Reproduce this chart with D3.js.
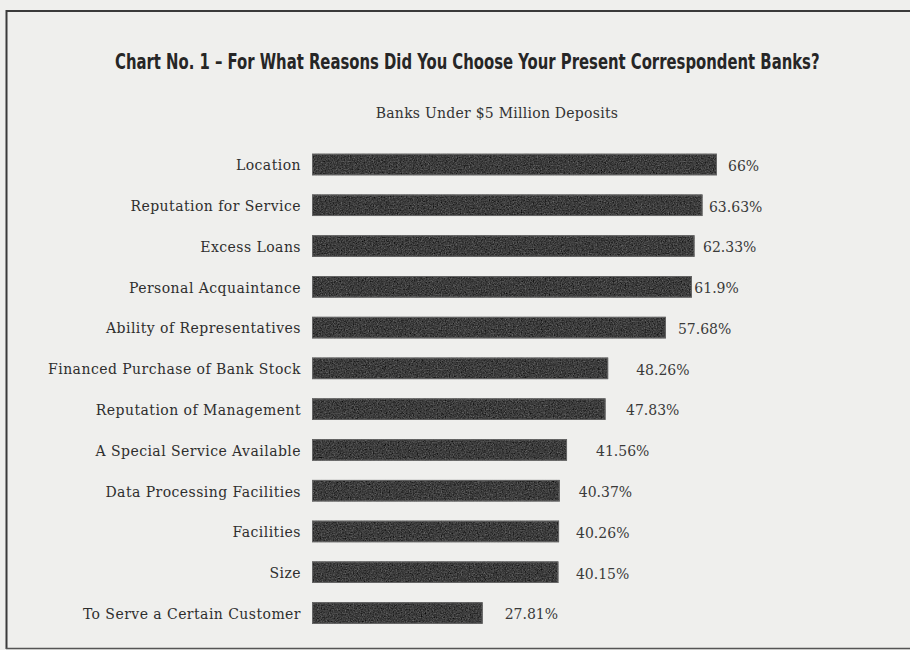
<!DOCTYPE html>
<html>
<head>
<meta charset="utf-8">
<script src="https://cdn.jsdelivr.net/npm/d3@7"></script>
<style>
  html, body { margin: 0; padding: 0; background: #efefed; }
  svg { display: block; }
</style>
</head>
<body>
<svg id="chart" width="910" height="650"></svg>
<script>
const titleText = "Chart No. 1 \u2013 For What Reasons Did You Choose Your Present Correspondent Banks?";
const subtitleText = "Banks Under $5 Million Deposits";
const categories = [
  "Location",
  "Reputation for Service",
  "Excess Loans",
  "Personal Acquaintance",
  "Ability of Representatives",
  "Financed Purchase of Bank Stock",
  "Reputation of Management",
  "A Special Service Available",
  "Data Processing Facilities",
  "Facilities",
  "Size",
  "To Serve a Certain Customer"
];
const values = [66, 63.63, 62.33, 61.9, 57.68, 48.26, 47.83, 41.56, 40.37, 40.26, 40.15, 27.81];
const valueLabels = ["66%", "63.63%", "62.33%", "61.9%", "57.68%", "48.26%", "47.83%", "41.56%", "40.37%", "40.26%", "40.15%", "27.81%"];
// gap between bar end and its percentage label, as typeset in the original
const labelGaps = [11, 6.5, 8.5, 2.5, 12, 28, 20.5, 29, 19, 17, 17.5, 22];

const svg = d3.select("#chart");
const W = 910, H = 650;

const defs = svg.append("defs");
const f = defs.append("filter").attr("id", "grain")
  .attr("x", 0).attr("y", 0).attr("width", "100%").attr("height", "100%")
  .attr("color-interpolation-filters", "sRGB");
f.append("feTurbulence").attr("type", "fractalNoise").attr("baseFrequency", "0.75")
  .attr("numOctaves", 3).attr("seed", 7).attr("result", "noise");
f.append("feColorMatrix").attr("in", "noise").attr("type", "matrix")
  .attr("values", "0.33 0.33 0.33 0 0  0.33 0.33 0.33 0 0  0.33 0.33 0.33 0 0  0 0 0 0 1")
  .attr("result", "gray");
const ct = f.append("feComponentTransfer").attr("in", "gray").attr("result", "g2");
["R", "G", "B"].forEach(c => ct.append("feFunc" + c).attr("type", "linear").attr("slope", 0.8).attr("intercept", -0.16));
f.append("feComposite").attr("in", "g2").attr("in2", "SourceGraphic").attr("operator", "in");

// page background
svg.append("rect").attr("width", W).attr("height", H).attr("fill", "#efefed");

// frame
svg.append("path")
  .attr("d", `M6.5,649 L6.5,11 L912,11`)
  .attr("fill", "none").attr("stroke", "#3a3a3a").attr("stroke-width", 2);
svg.append("line").attr("x1", 6).attr("x2", 912).attr("y1", 648.5).attr("y2", 648.5)
  .attr("stroke", "#555").attr("stroke-width", 1.5);

// title (condensed bold, fitted to the original's width)
const titleG = svg.append("g");
const title = titleG.append("text")
  .attr("x", 0).attr("y", 0)
  .attr("font-family", "'Liberation Sans Narrow', 'DejaVu Sans Condensed', 'Roboto Condensed', sans-serif")
  .attr("font-stretch", "condensed")
  .attr("font-weight", "bold")
  .attr("font-size", 21)
  .attr("fill", "#262626")
  .text(titleText);
const tw = title.node().getComputedTextLength();
const targetW = 705;
titleG.attr("transform", `translate(115,69) scale(${targetW / tw},1)`);

// subtitle
svg.append("text")
  .attr("x", 497).attr("y", 118)
  .attr("text-anchor", "middle")
  .attr("font-family", "'DejaVu Serif', 'Liberation Serif', serif")
  .attr("font-size", 14)
  .attr("letter-spacing", 0.25)
  .attr("fill", "#333")
  .text(subtitleText);

const x = d3.scaleLinear().domain([0, 66]).range([312, 717]);
const y = d3.scalePoint().domain(categories).range([164.5, 613]);
const barH = 21.5;

const rows = categories.map((c, i) => ({ c, v: values[i], lab: valueLabels[i], gap: labelGaps[i] }));

const g = svg.append("g");

g.selectAll("rect.bar").data(rows).join("rect")
  .attr("class", "bar")
  .attr("x", x(0))
  .attr("y", d => y(d.c) - barH / 2)
  .attr("width", d => x(d.v) - x(0))
  .attr("height", barH)
  .attr("fill", "#3a3a3a")
  .attr("filter", "url(#grain)");

g.selectAll("rect.edge").data(rows).join("rect")
  .attr("class", "edge")
  .attr("x", x(0) + 0.5)
  .attr("y", d => y(d.c) - barH / 2 + 0.5)
  .attr("width", d => x(d.v) - x(0) - 1)
  .attr("height", barH - 1)
  .attr("fill", "none")
  .attr("stroke", "#666")
  .attr("stroke-width", 1);

g.selectAll("text.cat").data(rows).join("text")
  .attr("class", "cat")
  .attr("x", 301)
  .attr("y", d => y(d.c))
  .attr("dy", "0.42em")
  .attr("text-anchor", "end")
  .attr("font-family", "'DejaVu Serif', 'Liberation Serif', serif")
  .attr("font-size", 14)
  .attr("letter-spacing", 0.45)
  .attr("fill", "#2e2e2e")
  .text(d => d.c);

g.selectAll("text.val").data(rows).join("text")
  .attr("class", "val")
  .attr("x", d => x(d.v) + d.gap)
  .attr("y", d => y(d.c))
  .attr("dy", "0.45em")
  .attr("font-family", "'DejaVu Serif', 'Liberation Serif', serif")
  .attr("font-size", 14)
  .attr("fill", "#3a3a3a")
  .text(d => d.lab);
</script>
</body>
</html>
